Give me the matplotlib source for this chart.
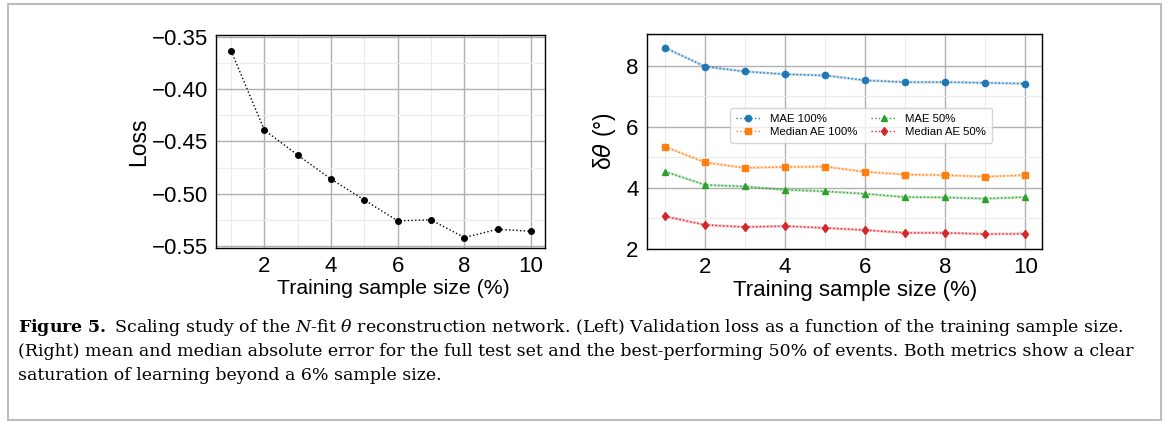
import numpy as np
import matplotlib
matplotlib.use("Agg")
import matplotlib.pyplot as plt
from matplotlib.ticker import MultipleLocator
from matplotlib.patches import Rectangle

plt.rcParams['font.family'] = ['Liberation Sans', 'DejaVu Sans']

sample_size = [1, 2, 3, 4, 5, 6, 7, 8, 9, 10]
loss = [-0.363, -0.439, -0.463, -0.486, -0.506, -0.526, -0.525, -0.542, -0.534, -0.536]

mae_100 = [8.60, 7.98, 7.82, 7.73, 7.69, 7.53, 7.47, 7.47, 7.45, 7.42]
median_100 = [5.35, 4.84, 4.66, 4.69, 4.70, 4.53, 4.44, 4.42, 4.37, 4.42]
mae_50 = [4.54, 4.10, 4.05, 3.94, 3.89, 3.81, 3.70, 3.69, 3.65, 3.70]
median_50 = [3.07, 2.79, 2.72, 2.75, 2.69, 2.62, 2.53, 2.53, 2.49, 2.50]

fig = plt.figure(figsize=(11.67, 4.21), dpi=100)

# outer frame of the figure box
fig.patches.append(Rectangle((8 / 1167, 1 / 421), 1153 / 1167, 416 / 421,
                             transform=fig.transFigure, fill=False,
                             edgecolor='#bdbdbd', linewidth=1.5))

ax1 = fig.add_axes([0.1851, 0.4109, 0.2819, 0.506])
ax2 = fig.add_axes([0.5544, 0.4086, 0.3385, 0.5107])


def style_axes(ax, fs_tick, fs_label, label_x):
    ax.grid(True, which='major', color='#b0b0b0', linewidth=1.0)
    ax.grid(True, which='minor', color='#ebebeb', linewidth=0.8)
    ax.set_axisbelow(True)
    ax.tick_params(which='both', length=0, labelsize=fs_tick, pad=6)
    for s in ax.spines.values():
        s.set_color('black')
        s.set_linewidth(1.0)
    ax.xaxis.set_major_locator(MultipleLocator(2))
    ax.xaxis.set_minor_locator(MultipleLocator(1))
    ax.set_xlim(0.55, 10.42)
    ax.set_xlabel('Training sample size (%)', fontsize=fs_label, labelpad=1, x=label_x)


ax1.plot(sample_size, loss, 'o', color='black', linestyle=':', linewidth=1.0, markersize=4)
style_axes(ax1, 16, 15.3, 0.54)
ax1.set_ylim(-0.552, -0.348)
ax1.yaxis.set_minor_locator(MultipleLocator(0.025))
ax1.set_yticks([-0.55, -0.50, -0.45, -0.40, -0.35])
ax1.set_yticklabels(['\u22120.55', '\u22120.50', '\u22120.45', '\u22120.40', '\u22120.35'])
ax1.set_ylabel('Loss', fontsize=16.5, labelpad=1)

series = [
    (mae_100, 'MAE 100%', 'o', '#1f77b4'),
    (median_100, 'Median AE 100%', 's', '#ff7f0e'),
    (mae_50, 'MAE 50%', '^', '#2ca02c'),
    (median_50, 'Median AE 50%', 'd', '#d62728'),
]
for vals, name, mk, col in series:
    ax2.plot(sample_size, vals, color=col, linewidth=2.0, alpha=0.25)
    ax2.plot(sample_size, vals, marker=mk, color=col, linestyle=':', linewidth=1.0,
             markersize=4.5, label=name)
style_axes(ax2, 16, 16, 0.528)
ax2.set_ylim(2, 9.05)
ax2.yaxis.set_major_locator(MultipleLocator(2))
ax2.yaxis.set_minor_locator(MultipleLocator(1))
ax2.set_ylabel('\u03b4$\\theta$ (\u00b0)', fontsize=16.5, labelpad=6, math_fontfamily='dejavusans')
ax2.legend(ncol=2, loc='center', bbox_to_anchor=(0.542, 0.575), fontsize=8.2,
           framealpha=0.8, edgecolor='#cccccc', handlelength=2.2, columnspacing=1.2,
           borderpad=0.5, labelspacing=0.3)

cap_kw = dict(fontsize=12.5, family='DejaVu Serif', ha='left', va='center',
              math_fontfamily='dejavuserif')
fig.text(18 / 1167, 1 - 328 / 421,
         r'$\mathbf{Figure\ 5.}$ Scaling study of the $N$-fit $\theta$ reconstruction network. '
         '(Left) Validation loss as a function of the training sample size.', **cap_kw)
fig.text(18 / 1167, 1 - 352 / 421,
         '(Right) mean and median absolute error for the full test set and the best-performing '
         '50% of events. Both metrics show a clear', **cap_kw)
fig.text(18 / 1167, 1 - 375 / 421,
         'saturation of learning beyond a 6% sample size.', **cap_kw)

fig.savefig('out.png', dpi=100)
